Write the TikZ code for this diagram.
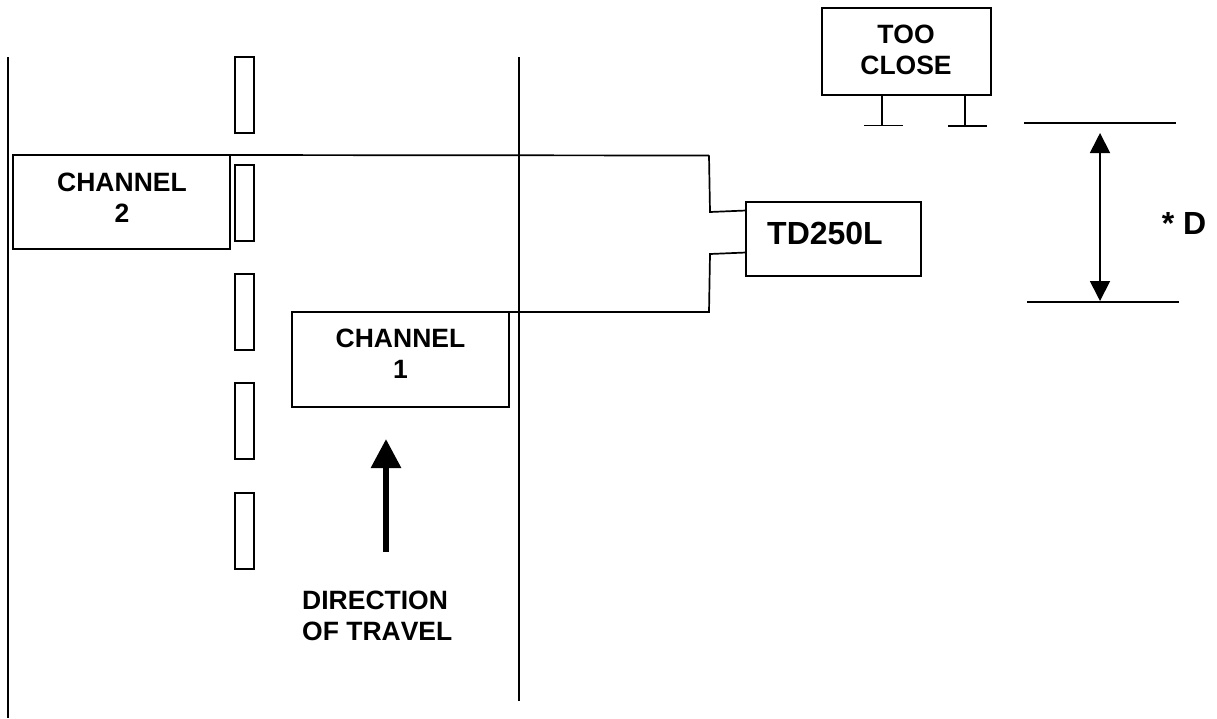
\documentclass[tikz,border=0pt]{standalone}
\usepackage{fontspec}
\setmainfont[Kerning=Off]{Liberation Sans}
\usetikzlibrary{arrows.meta}
\tikzset{
  thin line/.style={line width=1.7pt,black},
  boxnode/.style={draw=black,line width=1.7pt,inner sep=0pt,outer sep=0pt,fill=white},
  lane/.style={boxnode,line width=1.5pt,minimum width=19pt,minimum height=76pt},
  label small/.style={font=\fontsize{26.5}{31}\selectfont\bfseries,align=center,inner sep=0pt,text=black},
  label big/.style={font=\fontsize{32}{38}\selectfont\bfseries,inner sep=0pt,text=black},
}
\begin{document}
\begin{tikzpicture}[x=1pt,y=-1pt]
\useasboundingbox (0,0) rectangle (1217,718);
% road lines
\coordinate (roadLa) at (8,57); \coordinate (roadLb) at (8,718);
\coordinate (roadRa) at (519,57); \coordinate (roadRb) at (519,701);
\draw[thin line] (roadLa) -- (roadLb);
\draw[thin line] (roadRa) -- (roadRb);
% lane markers
\node[lane] (m1) at (244.5,95) {};
\node[lane] (m2) at (244.5,203) {};
\node[lane] (m3) at (244.5,312) {};
\node[lane] (m4) at (244.5,421) {};
\node[lane] (m5) at (244.5,531) {};
% boxes
\node[boxnode,minimum width=217pt,minimum height=94pt] (ch2) at (121.5,202) {};
\node[boxnode,minimum width=217pt,minimum height=95pt] (ch1) at (400.5,359.5) {};
\node[boxnode,minimum width=175pt,minimum height=74pt] (td) at (833.5,239) {};
\node[boxnode,minimum width=169pt,minimum height=87pt] (sign) at (906.5,51.5) {};
% box labels
\node[label small] (ch2t) at (122,198) {CHANNEL\\2};
\node[label small] (ch1t) at (400.5,354) {CHANNEL\\1};
\node[label big] (tdt) at (825,233) {TD250L};
\node[label small] (signt) at (906,50) {TOO\\CLOSE};
\node[label small,align=left,anchor=west] (dirt) at (302,616) {DIRECTION\\OF TRAVEL};
\node[label big] (dt) at (1184,223) {* D};
% wires
\coordinate (w1a) at (207,155); \coordinate (w1b) at (709,155.5); \coordinate (w1c) at (710,212); \coordinate (w1d) at (td.west |- 0,210.5);
\coordinate (w2a) at (472,312); \coordinate (w2b) at (709,312); \coordinate (w2c) at (710,254); \coordinate (w2d) at (td.west |- 0,252.5);
\draw[thin line] (w1a) -- (w1b) (w1b) -- (w1c) -- (w1d);
\draw[thin line] (w2a) -- (w2b) -- (w2c) -- (w2d);
% sign legs
\coordinate (l1) at (882,95); \coordinate (l1b) at (882,125.5);
\coordinate (f1a) at (864,125.5); \coordinate (f1b) at (903,125.5);
\coordinate (l2) at (965,95); \coordinate (l2b) at (965,126);
\coordinate (f2a) at (948,126); \coordinate (f2b) at (987,126);
\draw[thin line] (l1) -- (l1b) (f1a) -- (f1b) (l2) -- (l2b) (f2a) -- (f2b);
% dimension
\coordinate (d1a) at (1024,123); \coordinate (d1b) at (1176,123);
\coordinate (d2a) at (1027,302); \coordinate (d2b) at (1179,302);
\draw[thin line,line width=1.8pt] (d1a) -- (d1b);
\draw[thin line,line width=1.8pt] (d2a) -- (d2b);
\coordinate (dimA) at (1100,133); \coordinate (dimB) at (1100,301);
\draw[line width=1.8pt,{Triangle[length=20pt,width=20pt]}-{Triangle[length=20pt,width=20pt]}] (dimA) -- (dimB);
% direction arrow
\coordinate (dirA) at (386,552); \coordinate (dirB) at (386,439);
\draw[line width=6pt,-{Triangle[length=29pt,width=29pt]}] (dirA) -- (dirB);
\end{tikzpicture}
\end{document}
